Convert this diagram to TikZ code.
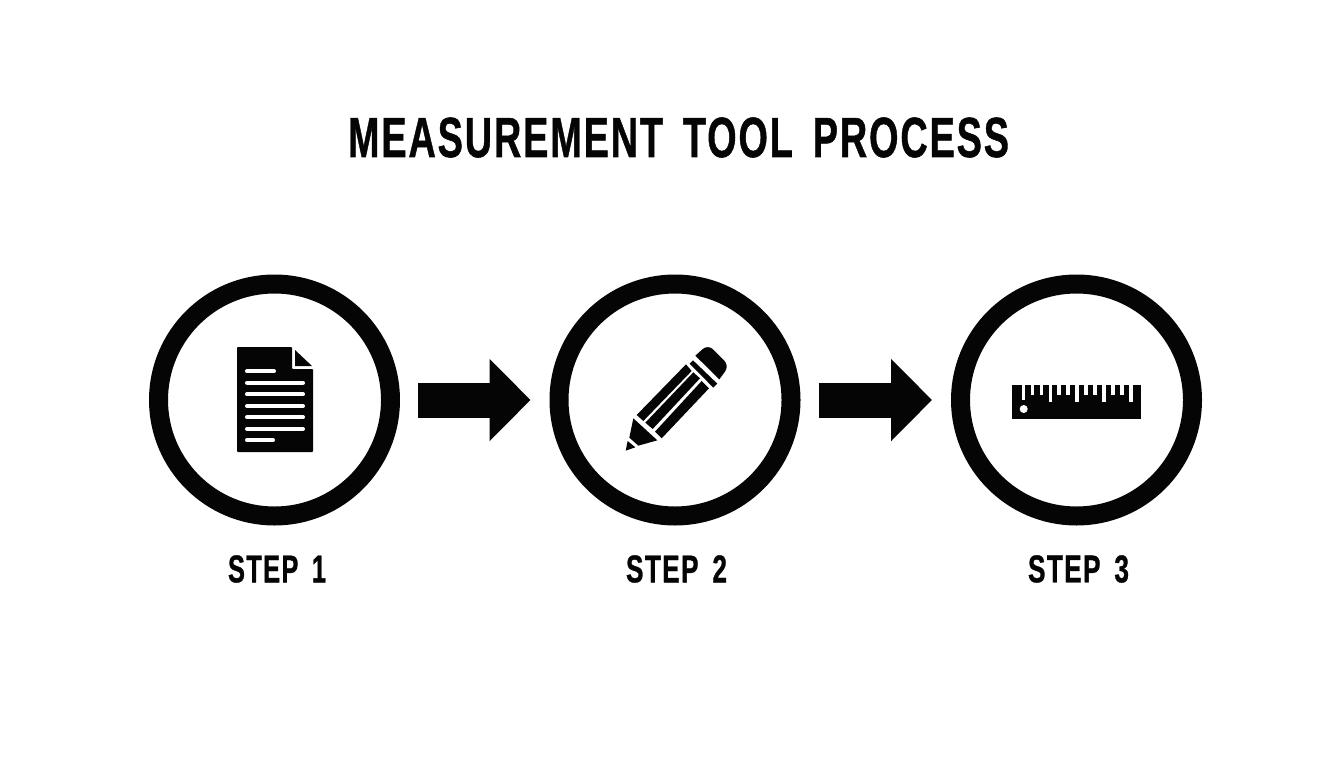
\documentclass[tikz,border=0pt]{standalone}
\usepackage{fontspec}
\usetikzlibrary{arrows.meta}
\setmainfont{Liberation Sans}[LetterSpace=5,WordSpace=1.6,FakeBold=1]
\definecolor{ink}{HTML}{050505}
\newcommand{\fittext}[3]{\resizebox{#1pt}{#2pt}{\bfseries #3}}
\tikzset{
  x=1pt,y=-1pt,
  ring/.style={circle,draw=ink,line width=19pt,minimum size=232pt,inner sep=0pt,fill=white},
  flow/.style={draw=ink,line width=35pt,-{Triangle[length=41pt,width=80pt,color=ink]},shorten <=18pt,shorten >=19pt},
  label/.style={inner sep=0pt,text=ink},
  ink shape/.style={fill=ink,draw=none},
  white line/.style={draw=white,line width=4pt,line cap=round},
}
\begin{document}
\begin{tikzpicture}
\useasboundingbox (0,0) rectangle (1344,768);
\fill[white] (0,0) rectangle (1344,768);
\node[label] (title) at (678.5,137.5) {\fittext{661}{39.5}{MEASUREMENT TOOL PROCESS}};
\node[ring] (c1) at (274.5,400) {};
\node[ring] (c2) at (675,400) {};
\node[ring] (c3) at (1076.5,400) {};
\draw[flow] (c1) -- (c2);
\draw[flow] (c2) -- (c3);
\node[label] (s1) at (277,569) {\fittext{98}{27}{STEP 1}};
\node[label] (s2) at (676.5,569) {\fittext{101}{27}{STEP 2}};
\node[label] (s3) at (1078.5,569) {\fittext{101}{27}{STEP 3}};
% document icon
\fill[ink shape,rounded corners=0.8pt] (237,347) -- (292,347) -- (292,369) -- (313,369) -- (313,452) -- (237,452) -- cycle;
\fill[ink shape] (295,350) -- (312,366) -- (295,366) -- cycle;
\draw[white line] (247,371.3) -- (274,371.3);
\foreach \yy in {382.7,394.3,406,417.3,429} \draw[white line] (247,\yy) -- (303,\yy);
\draw[white line] (247,440.3) -- (273,440.3);
% pencil icon
\begin{scope}[shift={(610,335)},x=0.3333pt,y=-0.3333pt]
\fill[ink shape] (47,347) -- (53,318) -- (76,337) -- cycle;
\fill[ink shape] (70,250) -- (142,316) -- (85,332) -- (58,308) -- cycle;
\fill[ink shape] (80,240) -- (228,88) -- (245,108) -- (100,258) -- cycle;
\fill[ink shape] (106,263) -- (250,112) -- (270,130) -- (128,282) -- cycle;
\fill[ink shape] (135,290) -- (275,138) -- (297,160) -- (155,310) -- cycle;
\fill[ink shape] (239,86) -- (249,76) -- (322,146) -- (310,158) -- cycle;
\fill[ink shape] (256,62) [rounded corners=7pt] -- (294,28) -- (358,92) [sharp corners] -- (328,133) -- cycle;
\end{scope}
% ruler icon
\fill[ink shape] (1012,385) rectangle (1141,419);
\foreach \xx/\yy in {1023.3/400,1032.3/395,1041.3/395,1050.2/402,1059.1/395,1068/395,1077/402,1086/395,1095/395,1104/402,1113/395,1122/395,1131/402}
  \draw[draw=white,line width=3.4pt] (\xx,384) -- (\xx,\yy);
\fill[white] (1023.7,409) circle (4);
\end{tikzpicture}
\end{document}
